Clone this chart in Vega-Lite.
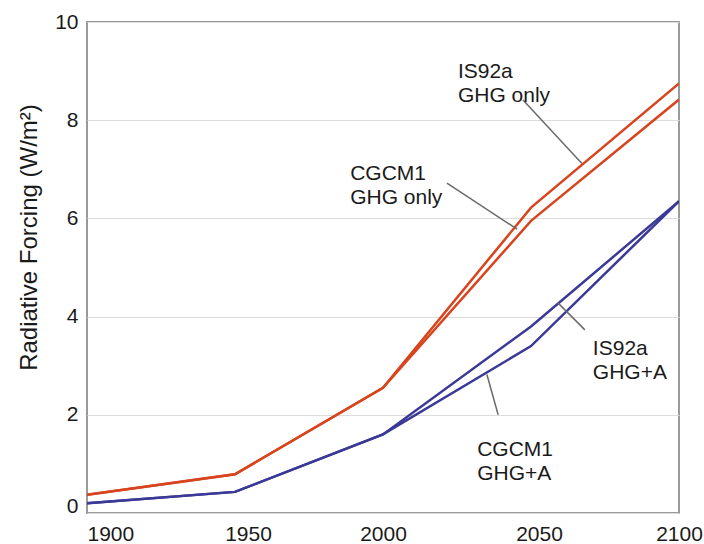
{
  "$schema": "https://vega.github.io/schema/vega-lite/v6.json",
  "width": 592,
  "height": 491,
  "autosize": {"type": "none"},
  "padding": {"left": 87, "top": 22, "right": 25, "bottom": 31},
  "background": "white",
  "config": {
    "font": "Liberation Sans",
    "view": {"stroke": "#9a9a9a", "strokeWidth": 2},
    "axis": {"labelFont": "Liberation Sans", "titleFont": "Liberation Sans", "labelColor": "#1a1a1a", "titleColor": "#1a1a1a"}
  },
  "datasets": {
    "lines": [
      {"series": "IS92a GHG only", "year": 1900, "value": 0.37},
      {"series": "IS92a GHG only", "year": 1950, "value": 0.79},
      {"series": "IS92a GHG only", "year": 2000, "value": 2.55},
      {"series": "IS92a GHG only", "year": 2050, "value": 6.22},
      {"series": "IS92a GHG only", "year": 2100, "value": 8.75},
      {"series": "CGCM1 GHG only", "year": 1900, "value": 0.37},
      {"series": "CGCM1 GHG only", "year": 1950, "value": 0.79},
      {"series": "CGCM1 GHG only", "year": 2000, "value": 2.55},
      {"series": "CGCM1 GHG only", "year": 2050, "value": 5.95},
      {"series": "CGCM1 GHG only", "year": 2100, "value": 8.42},
      {"series": "IS92a GHG+A", "year": 1900, "value": 0.2},
      {"series": "IS92a GHG+A", "year": 1950, "value": 0.43},
      {"series": "IS92a GHG+A", "year": 2000, "value": 1.6},
      {"series": "IS92a GHG+A", "year": 2050, "value": 3.8},
      {"series": "IS92a GHG+A", "year": 2100, "value": 6.35},
      {"series": "CGCM1 GHG+A", "year": 1900, "value": 0.2},
      {"series": "CGCM1 GHG+A", "year": 1950, "value": 0.43},
      {"series": "CGCM1 GHG+A", "year": 2000, "value": 1.6},
      {"series": "CGCM1 GHG+A", "year": 2050, "value": 3.4},
      {"series": "CGCM1 GHG+A", "year": 2100, "value": 6.35}
    ],
    "leaders": [
      {"label": "IS92a GHG only", "x1": 2047.3, "y1": 8.41, "x2": 2067.2, "y2": 7.12},
      {"label": "CGCM1 GHG only", "x1": 2021.6, "y1": 6.72, "x2": 2045.3, "y2": 5.78},
      {"label": "IS92a GHG+A", "x1": 2068.2, "y1": 3.73, "x2": 2059.1, "y2": 4.28},
      {"label": "CGCM1 GHG+A", "x1": 2038.9, "y1": 2.0, "x2": 2035.1, "y2": 2.82}
    ],
    "labels": [
      {"text": "IS92a\nGHG only", "year": 2025.3, "value": 8.99},
      {"text": "CGCM1\nGHG only", "year": 1988.9, "value": 6.91},
      {"text": "IS92a\nGHG+A", "year": 2070.9, "value": 3.33},
      {"text": "CGCM1\nGHG+A", "year": 2031.8, "value": 1.28}
    ]
  },
  "layer": [
    {
      "data": {"name": "lines"},
      "mark": {"type": "line", "strokeWidth": 2.5, "clip": true},
      "encoding": {
        "x": {
          "field": "year", "type": "quantitative",
          "scale": {"domain": [1900, 2100], "nice": false, "zero": false},
          "axis": {
            "values": [1900, 1950, 2000, 2050, 2100], "format": "d", "title": null,
            "grid": false, "ticks": false, "domain": false,
            "labelFontSize": 21, "labelPadding": 10, "labelFlush": false,
            "labelAlign": {"condition": {"test": "datum.value == 1900", "value": "left"}, "value": "center"},
            "labelOffset": {"condition": [{"test": "datum.value == 1950", "value": 13}, {"test": "datum.value == 2050", "value": 8}], "value": 0}
          }
        },
        "y": {
          "field": "value", "type": "quantitative",
          "scale": {"domain": [0, 10], "nice": false},
          "axis": {
            "values": [0, 2, 4, 6, 8, 10], "title": "Radiative Forcing (W/m²)",
            "grid": true, "gridColor": "#dcdcdc", "gridWidth": 1.2,
            "ticks": false, "domain": false,
            "labelFontSize": 21, "labelPadding": 9, "labelFlush": false,
            "labelOffset": {"condition": {"test": "datum.value == 0", "value": -7}, "value": 0},
            "titleFontSize": 24, "titleFontWeight": "normal", "titlePadding": 13, "titleY": 215
          }
        },
        "detail": {"field": "series"},
        "color": {
          "field": "series", "type": "nominal", "legend": null,
          "scale": {
            "domain": ["IS92a GHG only", "CGCM1 GHG only", "IS92a GHG+A", "CGCM1 GHG+A"],
            "range": ["#d8441e", "#d8441e", "#3b3997", "#3b3997"]
          }
        }
      }
    },
    {
      "data": {"name": "leaders"},
      "mark": {"type": "rule", "color": "#6a6a6a", "strokeWidth": 1.5},
      "encoding": {
        "x": {"field": "x1", "type": "quantitative"},
        "y": {"field": "y1", "type": "quantitative"},
        "x2": {"field": "x2"},
        "y2": {"field": "y2"}
      }
    },
    {
      "data": {"name": "labels"},
      "mark": {"type": "text", "align": "left", "baseline": "middle", "lineBreak": "\n", "lineHeight": 24, "fontSize": 21, "font": "Liberation Sans", "color": "#1a1a1a"},
      "encoding": {
        "x": {"field": "year", "type": "quantitative"},
        "y": {"field": "value", "type": "quantitative"},
        "text": {"field": "text"}
      }
    }
  ]
}
